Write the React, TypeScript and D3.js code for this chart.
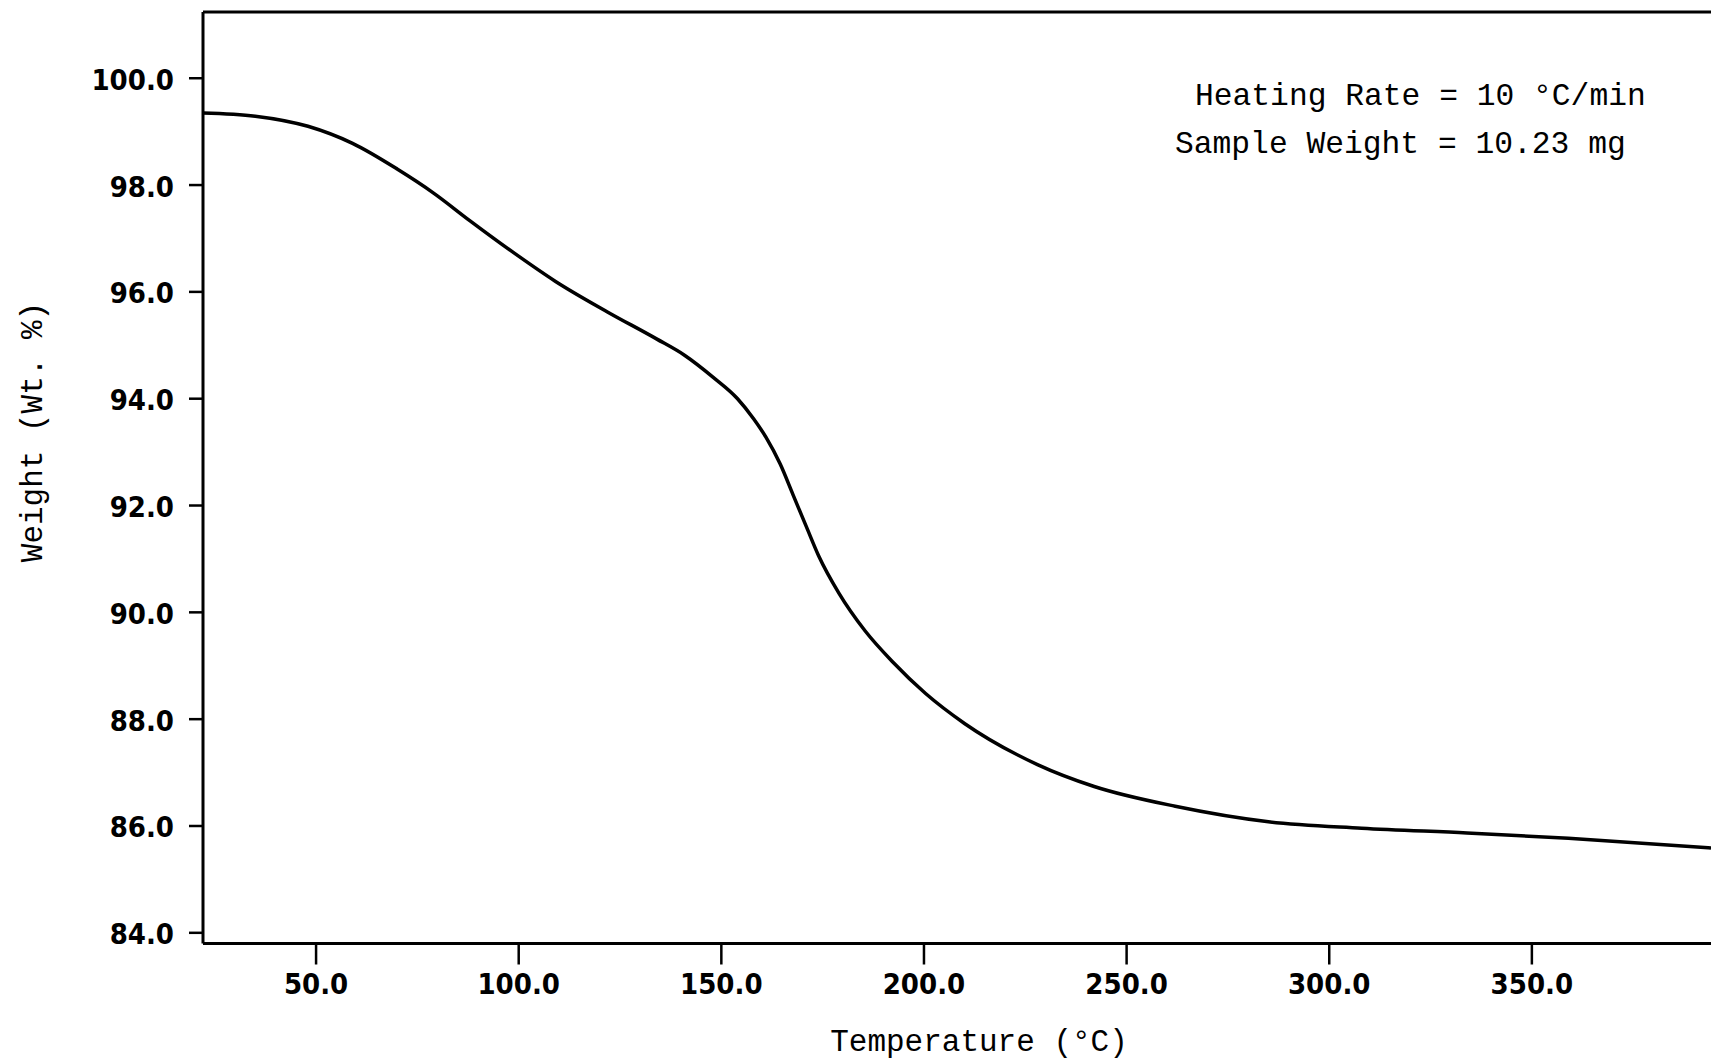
import React from "react";
import * as d3 from "d3";

const temperature = [22.1, 35, 48, 59, 70, 79, 88, 99, 109, 122, 134, 141, 148, 154, 158, 161, 164.5, 167.7, 171, 174, 179, 185.5, 192.3, 200.4, 210, 228, 242, 262, 285, 308, 334, 359, 394.2];
const weight = [99.35, 99.29, 99.1, 98.78, 98.3, 97.85, 97.33, 96.72, 96.2, 95.62, 95.12, 94.81, 94.4, 94.0, 93.62, 93.28, 92.78, 92.2, 91.6, 91.06, 90.36, 89.65, 89.07, 88.48, 87.92, 87.15, 86.74, 86.37, 86.08, 85.96, 85.87, 85.77, 85.59];
const xTicks = [50, 100, 150, 200, 250, 300, 350];
const yTicks = [84, 86, 88, 90, 92, 94, 96, 98, 100];
const annotations = ["Heating Rate = 10 °C/min", "Sample Weight = 10.23 mg"];
const xTitle = "Temperature (°C)";
const yTitle = "Weight (Wt. %)";

const W = 1711;
const H = 1060;

export default function App() {
  const x = d3.scaleLinear().domain([22.1, 394.2]).range([203, 1711]);
  const y = d3.scaleLinear().domain([83.8, 101.24]).range([943.5, 12]);
  const pts: [number, number][] = temperature.map((t, i) => [t, weight[i]]);
  const line = d3
    .line<[number, number]>()
    .x((d) => x(d[0]))
    .y((d) => y(d[1]))
    .curve(d3.curveMonotoneX);

  const tickFont = "'DejaVu Sans Condensed', 'DejaVu Sans', sans-serif";
  const monoFont = "'Liberation Mono', 'DejaVu Sans Mono', monospace";
  const [x0, x1] = x.range();
  const [yb, yt] = y.range();

  return (
    <svg
      width={W}
      height={H}
      viewBox={`0 0 ${W} ${H}`}
      style={{ position: "absolute", left: 0, top: 0, background: "#fff" }}
    >
      <rect x={0} y={0} width={W} height={H} fill="#fff" />
      {/* frame */}
      <line x1={x0} x2={x1} y1={yt} y2={yt} stroke="#000" strokeWidth={3} />
      <line x1={x0} x2={x0} y1={yt} y2={yb} stroke="#000" strokeWidth={3} />
      <line x1={x0} x2={x1} y1={yb} y2={yb} stroke="#000" strokeWidth={3} />

      {/* y ticks */}
      {yTicks.map((v) => (
        <g key={"y" + v}>
          <line x1={189} x2={x0} y1={y(v)} y2={y(v)} stroke="#000" strokeWidth={2.5} />
          <text
            x={174}
            y={y(v) + 1.5}
            textAnchor="end"
            dominantBaseline="central"
            fontFamily={tickFont}
            fontWeight="bold"
            fontSize={29}
            style={{ fontStretch: "condensed" }}
            fill="#000"
          >
            {v.toFixed(1)}
          </text>
        </g>
      ))}

      {/* x ticks */}
      {xTicks.map((v) => (
        <g key={"x" + v}>
          <line x1={x(v)} x2={x(v)} y1={yb} y2={yb + 21} stroke="#000" strokeWidth={2.5} />
          <text
            x={x(v)}
            y={994}
            textAnchor="middle"
            fontFamily={tickFont}
            fontWeight="bold"
            fontSize={29}
            style={{ fontStretch: "condensed" }}
            fill="#000"
          >
            {v.toFixed(1)}
          </text>
        </g>
      ))}

      {/* curve */}
      <path d={line(pts) || ""} fill="none" stroke="#000" strokeWidth={3.5} strokeLinejoin="round" />

      {/* annotations */}
      <text x={1195} y={105} fontFamily={monoFont} fontSize={31.3} fill="#000">
        {annotations[0]}
      </text>
      <text x={1175} y={153} fontFamily={monoFont} fontSize={31.3} fill="#000">
        {annotations[1]}
      </text>

      {/* axis titles */}
      <text x={979} y={1051} textAnchor="middle" fontFamily={monoFont} fontSize={31} fill="#000">
        {xTitle}
      </text>
      <text
        transform={`translate(42, 432) rotate(-90)`}
        textAnchor="middle"
        fontFamily={monoFont}
        fontSize={31}
        fill="#000"
      >
        {yTitle}
      </text>
    </svg>
  );
}
